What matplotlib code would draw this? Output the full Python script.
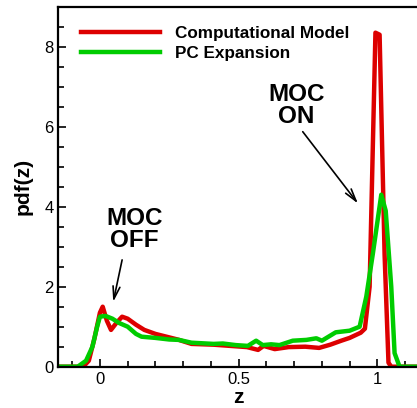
import numpy as np
import matplotlib
matplotlib.use('Agg')
import matplotlib.pyplot as plt

plt.rcParams['font.family'] = ['Liberation Sans', 'DejaVu Sans']

#---------data--------------------------------
model_z = [-0.15, -0.06, -0.04, -0.02, 0.0, 0.01, 0.025, 0.04, 0.06, 0.08, 0.1, 0.13,
           0.16, 0.2, 0.24, 0.28, 0.33, 0.41, 0.47, 0.53, 0.57, 0.59, 0.63, 0.68, 0.74,
           0.79, 0.83, 0.87, 0.9, 0.94, 0.955, 0.972, 0.993, 1.008, 1.026, 1.04, 1.05, 1.15]
model_pdf = [0, 0, 0.15, 0.7, 1.35, 1.5, 1.15, 0.92, 1.1, 1.25, 1.2, 1.05,
             0.92, 0.82, 0.75, 0.68, 0.57, 0.55, 0.52, 0.49, 0.42, 0.52, 0.44, 0.49, 0.5,
             0.47, 0.55, 0.65, 0.72, 0.85, 0.95, 2.0, 8.35, 8.3, 2.8, 0.1, 0, 0]

pc_z = [-0.15, -0.08, -0.05, -0.027, -0.01, 0.0, 0.02, 0.045, 0.07, 0.1, 0.13, 0.15,
        0.2, 0.25, 0.285, 0.33, 0.41, 0.443, 0.49, 0.533, 0.563, 0.587, 0.617, 0.647,
        0.695, 0.744, 0.78, 0.8, 0.85, 0.9, 0.936, 0.96, 0.984, 1.014, 1.03, 1.05,
        1.062, 1.08, 1.15]
pc_pdf = [0, 0, 0.15, 0.5, 1.0, 1.25, 1.27, 1.2, 1.09, 1.0, 0.82, 0.75,
          0.72, 0.68, 0.67, 0.6, 0.57, 0.58, 0.54, 0.52, 0.65, 0.54, 0.56, 0.54,
          0.65, 0.67, 0.71, 0.65, 0.86, 0.9, 1.0, 1.75, 2.84, 4.3, 3.9, 2.0,
          0.34, 0, 0]

#---------figure-----------
fig = plt.figure(figsize=(4.17, 4.08), dpi=100)
ax = fig.add_axes([58.3/417, 41.3/408, 360.7/417, 360/408])

ax.plot(model_z, model_pdf, color='#dd0000', lw=3.2, label='Computational Model')
ax.plot(pc_z, pc_pdf, color='#00cc00', lw=3.2, label='PC Expansion')

ax.set_xlim(-0.15, 1.15)
ax.set_ylim(0, 9)
ax.set_xticks([0, 0.5, 1])
ax.set_xticklabels(['0', '0.5', '1'])
ax.set_xticks(np.arange(-0.1, 1.15, 0.1), minor=True)
ax.set_yticks([0, 2, 4, 6, 8])
ax.set_yticks(np.arange(0, 9.01, 0.5), minor=True)
ax.tick_params(which='both', direction='in', labelsize=12, width=1.2,
               top=False, right=False)
ax.tick_params(which='major', length=6)
ax.tick_params(which='minor', length=4)
for s in ax.spines.values():
    s.set_linewidth(1.6)

ax.set_xlabel('z', fontsize=15, fontweight='bold', labelpad=1)
ax.set_ylabel('pdf(z)', fontsize=15, fontweight='bold', labelpad=8)

ax.legend(loc='upper left', bbox_to_anchor=(0.04, 0.97), frameon=False,
          prop={'weight': 'bold', 'size': 12.3}, handlelength=4.6,
          handletextpad=0.9, labelspacing=0.3, borderpad=0)

#---------annotations-----------
arrow = dict(arrowstyle='->,head_length=0.9,head_width=0.25',
             color='black', lw=1.2, shrinkA=0, shrinkB=0)
ax.text(0.124, 3.43, 'MOC\nOFF', ha='center', va='center', fontsize=17.5,
        fontweight='bold', linespacing=0.95)
ax.annotate('', xy=(0.048, 1.62), xytext=(0.08, 2.67), arrowprops=arrow)
ax.text(0.708, 6.54, 'MOC\nON', ha='center', va='center', fontsize=17.5,
        fontweight='bold', linespacing=0.95)
ax.annotate('', xy=(0.93, 4.08), xytext=(0.731, 5.875), arrowprops=arrow)

fig.savefig('out.png', dpi=100)
